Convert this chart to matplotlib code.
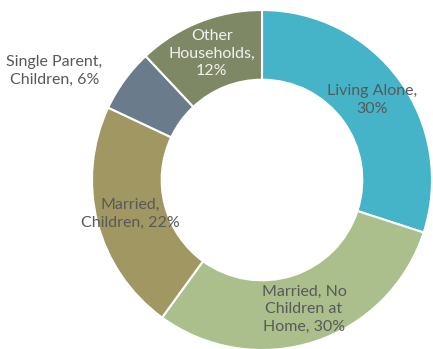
import matplotlib.pyplot as plt

labels = ["Living Alone,\n30%", "Married, No\nChildren at\nHome, 30%", "Married,\nChildren, 22%",
          "Single Parent,\nChildren, 6%", "Other\nHouseholds,\n12%"]
shares = [30, 30, 22, 6, 12]
colors = ["#45B4C9", "#AABF8B", "#A09762", "#6A7B8B", "#7F8864"]

plt.rcParams['font.family'] = ['Lato', 'DejaVu Sans']

fig = plt.figure(figsize=(4.33, 3.49), dpi=100)
ax = fig.add_axes([0, 0, 1, 1])

wedges, texts = ax.pie(shares, colors=colors, startangle=90, counterclock=False,
                       radius=1.0, labels=labels, labeldistance=0.8,
                       wedgeprops=dict(width=0.41, edgecolor='white', linewidth=1.5),
                       textprops=dict(fontsize=11.5, color='#595959', ha='center', va='center'))

for t in texts:
    t.set_horizontalalignment('center')
    t.set_multialignment('center')
    t.set_linespacing(1.35)

# the small slice gets its label outside the ring
texts[3].set_position((-1.22, 0.64))
texts[4].set_color('#F2F2F2')

ax.set_xlim(-262 / 170, 171 / 170)
ax.set_ylim(-169 / 170, 180 / 170)
ax.set_aspect('auto')
ax.axis('off')

fig.savefig("out.png", dpi=100)
